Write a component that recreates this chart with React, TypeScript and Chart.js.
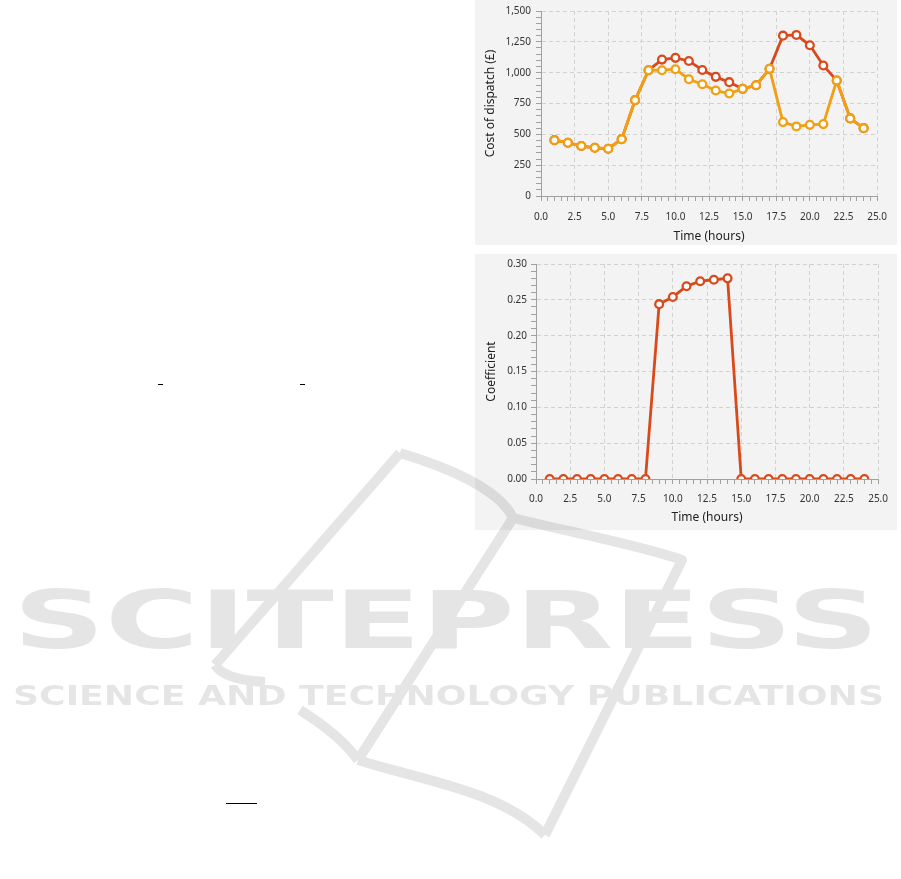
import React, { useEffect, useRef } from "react";
import { Chart, registerables } from "chart.js";

Chart.register(...registerables);

// ---------- data ----------
const hours = [1, 2, 3, 4, 5, 6, 7, 8, 9, 10, 11, 12, 13, 14, 15, 16, 17, 18, 19, 20, 21, 22, 23, 24];
const costRed = [453, 432, 405, 391, 383, 461, 777, 1020, 1106, 1120, 1095, 1022, 966, 923, 869, 898, 1031, 1300, 1306, 1222, 1058, 936, 629, 550];
const costOrange = [453, 432, 405, 391, 383, 461, 777, 1020, 1020, 1028, 947, 906, 855, 831, 869, 898, 1031, 599, 564, 577, 583, 936, 629, 550];
const coefficient = [0, 0, 0, 0, 0, 0, 0, 0, 0.244, 0.254, 0.269, 0.276, 0.278, 0.28, 0, 0, 0, 0, 0, 0, 0, 0, 0, 0];
const xMajorTicks = [0, 2.5, 5, 7.5, 10, 12.5, 15, 17.5, 20, 22.5, 25];
const costMajorTicks = [0, 250, 500, 750, 1000, 1250, 1500];
const coefMajorTicks = [0, 0.05, 0.1, 0.15, 0.2, 0.25, 0.3];

const RED = "#d84a1b";
const ORANGE = "#f0a012";
const FONT = "'Noto Sans', 'Open Sans', sans-serif";
const GRID = "#d2d2d2";
const AXIS = "#a0a0a0";

const isMajor = (v: number, majors: number[]) => majors.some((m) => Math.abs(m - v) < 1e-7);

function axis(
  majors: number[],
  step: number,
  min: number,
  max: number,
  fmt: (v: number) => string,
  title: string,
  pad: number,
  fit: (s: any) => void
) {
  return {
    type: "linear",
    min,
    max,
    ticks: {
      stepSize: step,
      autoSkip: false,
      maxRotation: 0,
      padding: pad,
      color: "#333",
      font: { family: FONT, size: 10 },
      callback: (v: any) => (isMajor(Number(v), majors) ? fmt(Number(v)) : ""),
    },
    grid: {
      color: (ctx: any) => (ctx.tick && isMajor(ctx.tick.value, majors) ? GRID : "rgba(0,0,0,0)"),
      tickColor: AXIS,
      tickLength: 5,
      lineWidth: 1,
    },
    border: { color: AXIS, width: 1, dash: [4, 3] },
    title: {
      display: true,
      text: title,
      color: "#222",
      font: { family: FONT, size: 12 },
      padding: { top: 4, bottom: 0 },
    },
    afterFit: fit,
  };
}

function useChart(ref: React.RefObject<HTMLCanvasElement | null>, make: () => any) {
  useEffect(() => {
    if (!ref.current) return;
    const chart = new Chart(ref.current, make());
    return () => chart.destroy();
  }, []);
}

function pointSeries(values: number[], color: string) {
  return {
    data: hours.map((h, i) => ({ x: h, y: values[i] })),
    borderColor: color,
    borderWidth: 2.8,
    pointRadius: 3.9,
    pointBorderWidth: 2.3,
    pointBackgroundColor: "#ffffff",
    pointBorderColor: color,
    tension: 0,
  };
}

function CostChart() {
  const ref = useRef<HTMLCanvasElement | null>(null);
  useChart(ref, () => ({
    type: "line",
    data: { datasets: [pointSeries(costOrange, ORANGE), pointSeries(costRed, RED)] },
    options: {
      responsive: false,
      animation: false,
      events: [],
      layout: { padding: { left: 4, right: 15, top: 11, bottom: 1 } },
      plugins: { legend: { display: false }, tooltip: { enabled: false } },
      scales: {
        x: axis(xMajorTicks, 0.5, 0, 25, (v) => v.toFixed(1), "Time (hours)", 10, (s: any) => {
          s.height = 48;
        }),
        y: axis(costMajorTicks, 50, 0, 1500, (v) => v.toLocaleString("en-US"), "Cost of dispatch (£)", 5, (s: any) => {
          s.width = 62;
        }),
      },
    },
  }));
  return <canvas ref={ref} width={422} height={245} style={{ display: "block" }} />;
}

function CoefChart() {
  const ref = useRef<HTMLCanvasElement | null>(null);
  useChart(ref, () => ({
    type: "line",
    data: {
      datasets: [{ ...pointSeries(coefficient, RED), clip: 0 }],
    },
    options: {
      responsive: false,
      animation: false,
      events: [],
      layout: { padding: { left: 5, right: 15, top: 8, bottom: 5 } },
      plugins: { legend: { display: false }, tooltip: { enabled: false } },
      scales: {
        x: axis(xMajorTicks, 0.5, 0, 25, (v) => v.toFixed(1), "Time (hours)", 9, (s: any) => {
          s.height = 46;
        }),
        y: axis(coefMajorTicks, 0.01, 0, 0.3, (v) => v.toFixed(2), "Coefficient", 4, (s: any) => {
          s.width = 56;
        }),
      },
    },
  }));
  return <canvas ref={ref} width={422} height={276} style={{ display: "block" }} />;
}

function Watermark() {
  return (
    <svg
      width={901}
      height={879}
      style={{ position: "absolute", left: 0, top: 0, pointerEvents: "none" }}
    >
      <g opacity={0.1} fill="none" stroke="#000" strokeWidth={10} strokeLinejoin="round">
        <path d="M 400 453 L 215 665" />
        <path d="M 215 665 Q 225 680 265 682" />
        <path d="M 400 453 C 450 468 500 490 513 518" />
        <path d="M 513 518 C 560 530 640 545 682 560 L 545 835" />
        <path d="M 513 518 L 358 760" />
        <path d="M 300 710 Q 340 735 358 760" />
        <path d="M 358 760 C 420 780 500 790 545 835" />
        <text
          x={13}
          y={648}
          textLength={866}
          lengthAdjust="spacingAndGlyphs"
          fontFamily="DejaVu Sans"
          fontWeight="bold"
          fontSize={80}
          fill="#000"
          stroke="none"
        >
          SCITEPRESS
        </text>
        <text
          x={13}
          y={705}
          textLength={871}
          lengthAdjust="spacingAndGlyphs"
          fontFamily="DejaVu Sans"
          fontWeight="bold"
          fontSize={26}
          fill="#000"
          stroke="none"
        >
          SCIENCE AND TECHNOLOGY PUBLICATIONS
        </text>
      </g>
    </svg>
  );
}

export default function App() {
  return (
    <div
      style={{
        position: "absolute",
        left: 0,
        top: 0,
        width: 901,
        height: 879,
        background: "#ffffff",
        overflow: "hidden",
      }}
    >
      <div style={{ position: "absolute", left: 158, top: 384, width: 5, height: 1, background: "#000" }} />
      <div style={{ position: "absolute", left: 300, top: 384, width: 5, height: 1, background: "#000" }} />
      <div style={{ position: "absolute", left: 226, top: 803, width: 31, height: 1, background: "#000" }} />
      <div style={{ position: "absolute", left: 475, top: 0, width: 422, height: 245, background: "#f3f3f3" }}>
        <CostChart />
      </div>
      <div style={{ position: "absolute", left: 475, top: 254, width: 422, height: 276, background: "#f3f3f3" }}>
        <CoefChart />
      </div>
      <Watermark />
    </div>
  );
}
